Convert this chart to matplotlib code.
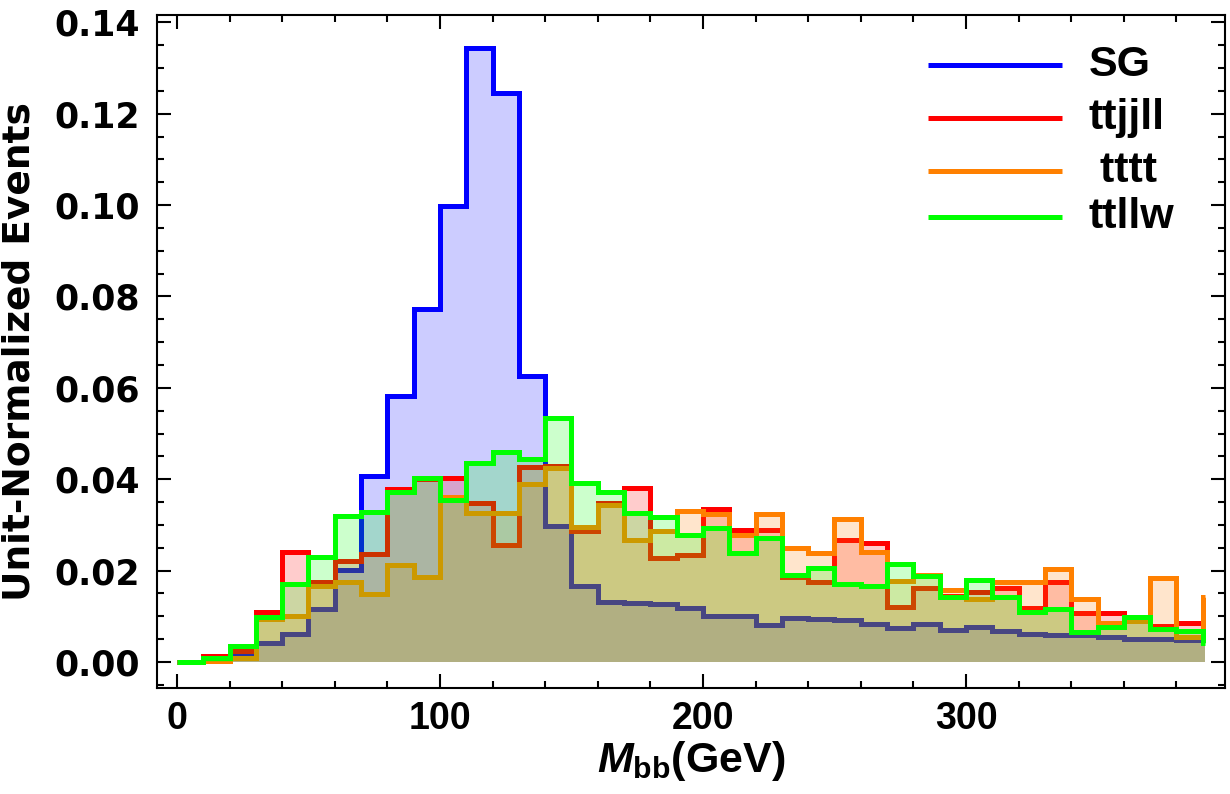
import numpy as np
import matplotlib.pyplot as plt
from matplotlib import font_manager
from matplotlib.ticker import MultipleLocator, FormatStrFormatter

# condensed face for the x axis texts, if it is there
try:
    font_manager.findfont('Liberation Sans Narrow', fallback_to_default=False)
    narrow = 'Liberation Sans Narrow'
    xsize = 31
except ValueError:
    narrow = 'Liberation Sans'
    xsize = 27

plt.rcParams['font.family'] = ['Liberation Sans', 'DejaVu Sans']
plt.rcParams['font.weight'] = 'bold'
plt.rcParams['mathtext.fontset'] = 'custom'
plt.rcParams['mathtext.it'] = narrow + ':italic:bold'
plt.rcParams['mathtext.rm'] = narrow + ':bold'

# bin edges in GeV, plot range is cut at 391
edges = np.append(np.arange(0, 400, 10), 391)

labels = ['SG', 'ttjjll', ' tttt', 'ttllw']
colors = ['#0000ff', '#ff0000', '#ff8000', '#00ff00']

sg = [0, 0.0003, 0.0019, 0.0041, 0.0061, 0.0116, 0.0201, 0.0407, 0.0583, 0.0772,
      0.0998, 0.1344, 0.1245, 0.0626, 0.0298, 0.0166, 0.0132, 0.0128, 0.0126, 0.0119,
      0.0101, 0.0101, 0.0081, 0.0096, 0.0093, 0.0092, 0.0084, 0.0075, 0.0083, 0.0070,
      0.0077, 0.0068, 0.0061, 0.0060, 0.0059, 0.0054, 0.0050, 0.0050, 0.0048, 0.0048]

ttjjll = [0, 0.0014, 0.0025, 0.0109, 0.0241, 0.0176, 0.0222, 0.0236, 0.0378, 0.0400,
          0.0402, 0.0347, 0.0255, 0.0427, 0.0430, 0.0287, 0.0349, 0.0381, 0.0228, 0.0234,
          0.0335, 0.0288, 0.0288, 0.0187, 0.0176, 0.0268, 0.0261, 0.0121, 0.0161, 0.0145,
          0.0154, 0.0161, 0.0119, 0.0174, 0.0107, 0.0107, 0.0092, 0.0079, 0.0086, 0.0086]

tttt = [0, 0.0003, 0.0008, 0.0095, 0.0101, 0.0167, 0.0176, 0.0149, 0.0213, 0.0185,
        0.0362, 0.0325, 0.0325, 0.0389, 0.0425, 0.0296, 0.0343, 0.0268, 0.0287, 0.0331,
        0.0324, 0.0278, 0.0324, 0.0249, 0.0239, 0.0313, 0.0241, 0.0177, 0.0190, 0.0158,
        0.0138, 0.0176, 0.0176, 0.0203, 0.0138, 0.0085, 0.0090, 0.0184, 0.0055, 0.0143]

ttllw = [0, 0.0008, 0.0036, 0.0099, 0.0171, 0.0229, 0.0319, 0.0328, 0.0371, 0.0402,
         0.0354, 0.0436, 0.0459, 0.0444, 0.0535, 0.0391, 0.0371, 0.0325, 0.0317, 0.0278,
         0.0294, 0.0238, 0.0271, 0.0190, 0.0206, 0.0171, 0.0167, 0.0214, 0.0189, 0.0142,
         0.0179, 0.0143, 0.0110, 0.0115, 0.0066, 0.0077, 0.0099, 0.0072, 0.0068, 0.0042]

series = [sg, ttjjll, tttt, ttllw]

fig = plt.figure(figsize=(12.3, 7.94), dpi=100)
ax = fig.add_axes([0.1276, 0.1335, 0.8684, 0.8475])

z = 2
for vals, c in zip(series, colors):
    ax.stairs(vals, edges, fill=True, color=c, alpha=0.2, linewidth=0, zorder=z)
    ax.stairs(vals, edges, baseline=None, color=c, linewidth=3.6,
              joinstyle='miter', zorder=z + 0.5)
    z += 1

ax.set_xlim(-7.6, 398.5)
ax.set_ylim(-0.0057, 0.1416)

ax.xaxis.set_major_locator(MultipleLocator(100))
ax.xaxis.set_minor_locator(MultipleLocator(20))
ax.yaxis.set_major_locator(MultipleLocator(0.02))
ax.yaxis.set_minor_locator(MultipleLocator(0.005))
ax.yaxis.set_major_formatter(FormatStrFormatter('%.2f'))

ax.tick_params(which='both', direction='in', top=True, right=True, width=1.5)
ax.tick_params(which='major', length=10)
ax.tick_params(which='minor', length=5)
ax.tick_params(axis='y', which='major', labelsize=25, pad=12, labelfontfamily='DejaVu Sans')
ax.tick_params(axis='x', which='major', labelsize=xsize, pad=9, labelfontfamily=narrow)
for sp in ax.spines.values():
    sp.set_linewidth(1.5)

ax.set_xlabel(r'$M_{\mathrm{bb}}$(GeV)', fontsize=xsize + 4, fontweight='bold',
              family=narrow, labelpad=2)
ax.set_ylabel('Unit-Normalized Events', fontsize=27, fontweight='bold',
              family='DejaVu Sans', labelpad=12)

# legend drawn by hand to match the spacing of the original
leg_y = [0.926, 0.847, 0.769, 0.700]
for lab, c, yy in zip(labels, colors, leg_y):
    ax.plot([0.722, 0.847], [yy, yy], color=c, linewidth=3.6,
            transform=ax.transAxes, solid_capstyle='butt', zorder=10)
    ax.text(0.872, yy, lab, transform=ax.transAxes, fontsize=31,
            fontweight='bold', va='center', ha='left', zorder=10)

plt.savefig('out.png', dpi=100)
